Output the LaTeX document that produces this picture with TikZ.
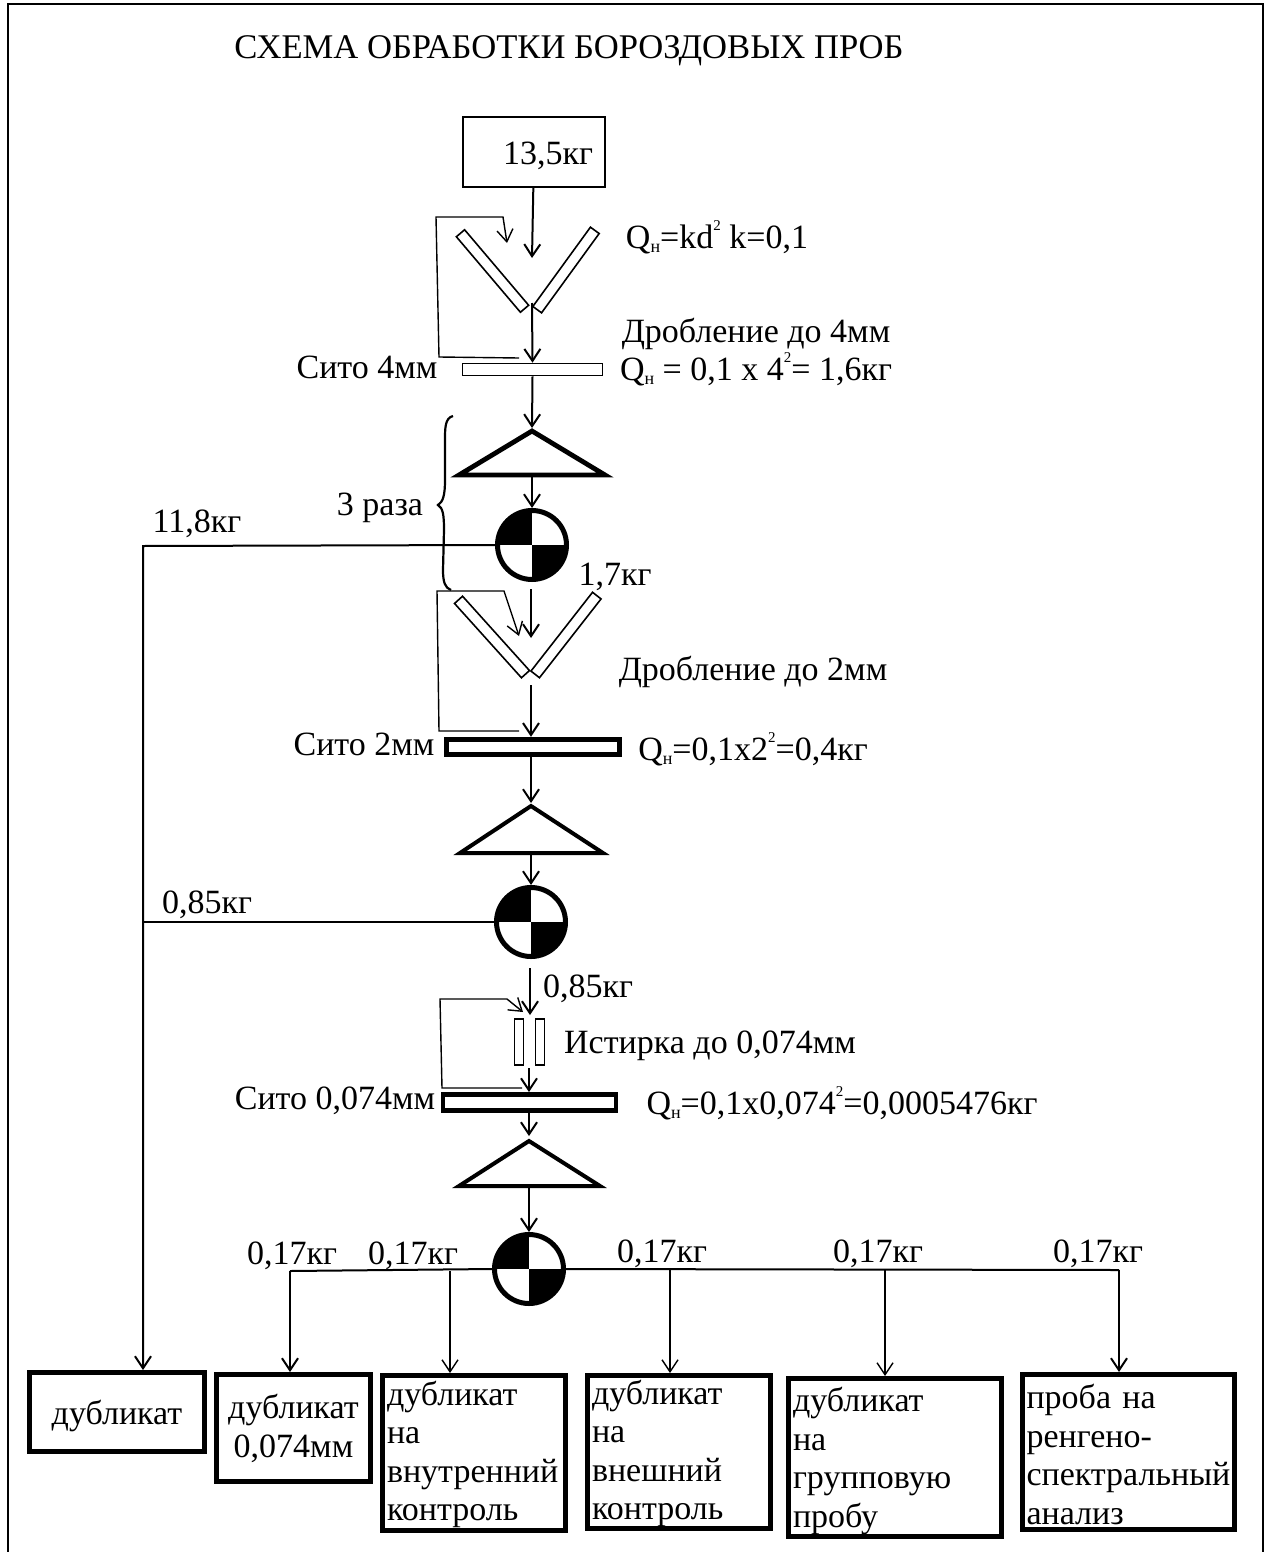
\documentclass[tikz,border=0pt]{standalone}
\usepackage{fontspec}
\setmainfont{Liberation Serif}
\usetikzlibrary{arrows.meta}
\newcommand{\qsub}{Q\raisebox{-0.3ex}{\fontsize{9}{9}\selectfont н}}
\newcommand{\sqr}{\raisebox{1.1ex}{\fontsize{7.5}{8}\selectfont 2}}
\tikzset{
  lab/.style={inner sep=0pt,anchor=base,font=\fontsize{17}{19.25}\selectfont},
  flow/.style={line width=1pt,-{Straight Barb[length=6pt,width=8pt]}},
  back/.style={line width=0.7pt},
  bar/.style={draw,line width=0.8pt,fill=white,inner sep=0pt},
  sieve/.style={bar,minimum height=8pt},
  wedge/.style={line width=2.4pt,miter limit=10},
  splitdisc/.style={circle,draw,line width=2.5pt,inner sep=0pt,minimum size=34.5pt,
    path picture={
      \fill (path picture bounding box.center) rectangle (path picture bounding box.north west);
      \fill (path picture bounding box.center) rectangle (path picture bounding box.south east);}},
  outbox/.style={draw,line width=2.5pt,inner xsep=2pt,inner ysep=0pt,align=left,
    font=\fontsize{17}{19.25}\selectfont},
}
\begin{document}
\begin{tikzpicture}[x=0.5pt,y=-0.5pt]
  \useasboundingbox (0,0) rectangle (1270,1552);
  \fill[white] (0,0) rectangle (1270,1552);
  \draw[line width=0.8pt] (8,1552) -- (8,4) -- (1263,4) -- (1263,1552);
  \node[lab,font=\fontsize{17.3}{20}\selectfont] (title) at (569,59) {СХЕМА ОБРАБОТКИ БОРОЗДОВЫХ ПРОБ};

  \node[draw,line width=1pt,minimum width=71pt,minimum height=35pt,inner sep=0pt,font=\fontsize{17}{19.25}\selectfont] (start) at (534,152) {\hspace*{14pt}\rule{0pt}{15pt}13,5кг};
  \coordinate (crush1in) at (532,258);
  \coordinate (crush1out) at (532,303);
  \node[bar,minimum width=49.5pt,minimum height=5.4pt,rotate=-49.7] (crush1l) at (492.5,271) {};
  \node[bar,minimum width=49pt,minimum height=5.4pt,rotate=54] (crush1r) at (566,270) {};
  \node[sieve,minimum width=70pt,minimum height=6pt] (sieve1) at (532.5,369.5) {};
  \coordinate (tri1) at (532,428);
  \coordinate (tri1b) at (532,476);
  \draw[wedge] (532,431) -- (459,475) -- (605,475) -- cycle;
  \node[splitdisc] (disc1) at (532,545) {};
  \draw[flow] (start) -- (crush1in);
  \draw[flow] (crush1out) -- (sieve1.north);
  \draw[flow] (sieve1.south) -- (tri1);
  \draw[flow] (tri1b) -- (disc1.north);
  \coordinate (ret1a) at (519,358);
  \coordinate (ret1b) at (507,243);
  \draw[back,-{Straight Barb[length=6pt,width=8pt]}] (ret1a) -- (439,357) -- (436,217) -- (503,217) -- (ret1b);

  \node[lab] (q1) at (717,248) {\qsub=kd\sqr{} k=0,1};
  \node[lab] (crushtxt1) at (756,342) {Дробление до 4мм};
  \node[lab] (q2) at (756,380) {\qsub{} = 0,1 x 4\sqr= 1,6кг};
  \node[lab] (sievetxt1) at (367,378) {Сито 4мм};
  \node[lab] (times) at (380,515) {3 раза};
  \node[lab] (out1) at (197,532) {11,8кг};
  \node[lab] (keep1) at (615,585) {1,7кг};
  \draw[line width=1.1pt] (453,416) .. controls (445,418) and (445,428) .. (445,440)
    -- (445,480) .. controls (445,495) and (443,502) .. (438,505)
    .. controls (443,508) and (444,515) .. (444,530)
    -- (443,570) .. controls (443,582) and (445,588) .. (451,590);

  \coordinate (crush2in) at (531,589);
  \coordinate (crush2mid) at (531,638);
  \coordinate (crush2out) at (531,685);
  \node[bar,minimum width=50pt,minimum height=5.4pt,rotate=-48] (crush2l) at (492,637) {};
  \node[bar,minimum width=50pt,minimum height=5.4pt,rotate=52] (crush2r) at (566,635) {};
  \node[sieve,minimum width=86.5pt,minimum height=7.8pt,line width=2.4pt] (sieve2) at (533,747) {};
  \coordinate (tri2) at (531,803);
  \coordinate (tri2b) at (531,853);
  \draw[wedge,line width=2pt] (531,806) -- (460,853) -- (603,853) -- cycle;
  \node[splitdisc] (disc2) at (531,922) {};
  \draw[flow] (crush2in) -- (crush2mid);
  \draw[flow] (crush2out) -- (sieve2.north -| crush2out);
  \draw[flow] (sieve2.south -| crush2out) -- (tri2);
  \draw[flow] (tri2b) -- (disc2.north);
  \coordinate (ret2a) at (519,731);
  \coordinate (ret2b) at (519,636);
  \draw[back,-{Straight Barb[length=6pt,width=8pt]}] (ret2a) -- (439,731) -- (437,591) -- (504,591) -- (ret2b);

  \node[lab] (crushtxt2) at (753,680) {Дробление до 2мм};
  \node[lab] (sievetxt2) at (364,755) {Сито 2мм};
  \node[lab] (q3) at (753,760) {\qsub=0,1x2\sqr=0,4кг};
  \node[lab] (out2) at (207,913) {0,85кг};

  \coordinate (mill) at (530,968);
  \coordinate (millin) at (530,1015);
  \coordinate (millout) at (529,1068);
  \node[bar,minimum width=4.5pt,minimum height=23pt] (milll) at (519,1042) {};
  \node[bar,minimum width=4.5pt,minimum height=23pt] (millr) at (540,1042) {};
  \node[sieve,minimum width=86.5pt,minimum height=8pt,line width=2.4pt] (sieve3) at (529.5,1102.5) {};
  \coordinate (tri3) at (529,1136);
  \coordinate (tri3b) at (529,1188);
  \draw[wedge,line width=2pt] (529,1141) -- (459,1186) -- (600,1186) -- cycle;
  \node[splitdisc] (disc3) at (529,1269) {};
  \draw[flow] (mill) -- (millin);
  \draw[flow] (millout) -- (sieve3.north -| millout);
  \draw[flow] (sieve3.south -| millout) -- (tri3);
  \draw[flow] (tri3b) -- (disc3.north);
  \coordinate (ret3a) at (522,1088);
  \coordinate (ret3b) at (523,1012);
  \draw[back,-{Straight Barb[length=6pt,width=8pt]}] (ret3a) -- (442,1088) -- (440,999) -- (507,999) -- (ret3b);

  \node[lab] (keep2) at (588,997) {0,85кг};
  \node[lab] (milltxt) at (710,1053) {Истирка до 0,074мм};
  \node[lab] (sievetxt3) at (335,1109) {Сито 0,074мм};
  \node[lab] (q4) at (842,1114) {\qsub=0,1x0,074\sqr=0,0005476кг};

  \node[outbox,minimum width=87.5pt,minimum height=39.5pt,inner xsep=0pt,align=center] (dup1) at (117,1412) {\rule{0pt}{16pt}дубликат};
  \node[outbox,minimum width=77pt,minimum height=53.5pt,align=center,inner xsep=0pt] (dup2) at (293.5,1428) {\rule{0pt}{12.5pt}дубликат\\0,074мм};
  \node[outbox,minimum width=91.5pt,minimum height=77.5pt,text width=87pt] (dup3) at (474,1453) {\rule{0pt}{13.5pt}дубликат\\на\\внутренний\\контроль};
  \node[outbox,minimum width=91.5pt,minimum height=76.5pt,text width=87pt] (dup4) at (679,1452) {\rule{0pt}{13.5pt}дубликат\\на\\внешний\\контроль};
  \node[outbox,minimum width=106.5pt,minimum height=79pt,text width=102pt] (dup5) at (895,1457.5) {\rule{0pt}{15.5pt}дубликат\\на\\групповую\\пробу};
  \node[outbox,minimum width=106pt,minimum height=77.5pt,text width=102pt] (probe) at (1128.5,1452) {\rule{0pt}{14.5pt}проба на\\ренгено-\\спектральный\\анализ};

  \coordinate (trunk) at (143,546);
  \draw[flow] (disc1.west) -- (trunk) -- (trunk |- dup1.north);
  \draw[line width=1pt] (disc2.west) -- (disc2.west -| trunk);
  \coordinate (split1) at (290,1271);
  \coordinate (split2) at (450,1271);
  \coordinate (split3) at (670,1270);
  \coordinate (split4) at (885,1270);
  \coordinate (split5) at (1119,1270);
  \draw[line width=1pt] (disc3.west) -- (split1);
  \draw[line width=1pt] (disc3.east) -- (split5);
  \draw[flow] (split1) -- (split1 |- dup2.north);
  \draw[flow,line width=0.7pt] (split2) -- (split2 |- dup3.north);
  \draw[flow,line width=0.7pt] (split3) -- (split3 |- dup4.north);
  \draw[flow,line width=0.7pt] (split4) -- (split4 |- dup5.north);
  \draw[flow] (split5) -- (split5 |- probe.north);
  \node[lab] (part1) at (292,1264) {0,17кг};
  \node[lab] (part2) at (413,1264) {0,17кг};
  \node[lab] (part3) at (662,1262) {0,17кг};
  \node[lab] (part4) at (878,1262) {0,17кг};
  \node[lab] (part5) at (1098,1262) {0,17кг};
\end{tikzpicture}
\end{document}
